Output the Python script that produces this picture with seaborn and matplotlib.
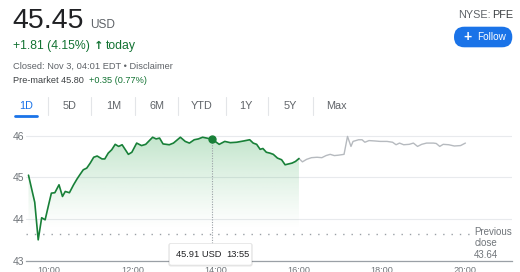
import numpy as np
import pandas as pd
import matplotlib
matplotlib.use("Agg")
import matplotlib.pyplot as plt
import seaborn as sns
from matplotlib.patches import Polygon, FancyBboxPatch
from matplotlib.lines import Line2D
from matplotlib.colors import to_rgb

# ---------------- data ----------------
reg_time = ["9:30", "9:39", "9:44", "9:49", "9:54", "9:59", "10:03", "10:08", "10:14", "10:19",
            "10:23", "10:29", "10:35", "10:40", "10:44", "10:49", "10:54", "10:59", "11:04", "11:09",
            "11:16", "11:20", "11:25", "11:30", "11:35", "11:40", "11:45", "11:54", "11:59", "12:06",
            "12:13", "12:19", "12:29", "12:34", "12:39", "12:44", "12:53", "12:59", "13:09", "13:16",
            "13:22", "13:29", "13:35", "13:41", "13:47", "13:55", "14:05", "14:13", "14:21", "14:30",
            "14:40", "14:49", "14:54", "14:59", "15:04", "15:08", "15:13", "15:18", "15:23", "15:29",
            "15:35", "15:40", "15:50", "15:55", "16:00"]
reg_price = [45.05, 44.40, 43.50, 44.03, 43.98, 44.34, 44.62, 44.63, 44.82, 44.54,
             44.66, 44.63, 44.82, 44.96, 45.06, 45.18, 45.22, 45.34, 45.48, 45.51,
             45.44, 45.44, 45.58, 45.66, 45.79, 45.74, 45.78, 45.55, 45.60, 45.82,
             45.76, 45.79, 45.96, 45.92, 45.94, 45.80, 45.78, 45.82, 45.96, 45.86,
             45.82, 45.90, 45.92, 45.96, 45.94, 45.91, 45.79, 45.86, 45.83, 45.84,
             45.87, 45.90, 45.82, 45.79, 45.67, 45.69, 45.60, 45.58, 45.55, 45.46,
             45.42, 45.30, 45.34, 45.38, 45.45]

ah_time = ["16:00", "16:05", "16:11", "16:18", "16:26", "16:33", "16:39", "16:45", "16:51", "16:57",
           "17:05", "17:10", "17:15", "17:18", "17:26", "17:31", "17:35", "17:41", "17:50", "17:57",
           "18:07", "18:15", "18:20", "18:25", "18:31", "18:39", "18:45", "18:51", "18:57", "19:04",
           "19:14", "19:18", "19:23", "19:28", "19:36", "19:44", "19:53", "20:00"]
ah_price = [45.45, 45.37, 45.43, 45.47, 45.48, 45.47, 45.52, 45.55, 45.52, 45.53,
            45.55, 45.98, 45.74, 45.86, 45.90, 45.90, 45.84, 45.88, 45.87, 45.86,
            45.86, 45.84, 45.78, 45.82, 45.78, 45.79, 45.82, 45.74, 45.79, 45.82,
            45.82, 45.81, 45.74, 45.79, 45.78, 45.75, 45.76, 45.82]

prev_close = 43.64
hover_time = "13:55"
hover_price = 45.91
y_ticks = [43, 44, 45, 46]
x_tick_labels = ["10:00", "12:00", "14:00", "16:00", "18:00", "20:00"]
tabs = ["1D", "5D", "1M", "6M", "YTD", "1Y", "5Y", "Max"]

price = "45.45"
currency = "USD"
change_value = "+1.81 (4.15%)"
change_arrow = "\u2191"
change_word = "today"
closed_text = "Closed: Nov 3, 04:01 EDT \u2022 Disclaimer"
premarket_label = "Pre-market 45.80"
premarket_change = "+0.35 (0.77%)"
exchange = "NYSE:"
ticker = "PFE"


def hours(ts):
    return [int(s.split(":")[0]) + int(s.split(":")[1]) / 60 for s in ts]


# ---------------- style ----------------
sns.set_style("white")
plt.rcParams["font.family"] = ["Liberation Sans", "DejaVu Sans"]

W, H = 520, 272
fig = plt.figure(figsize=(W / 100, H / 100), dpi=100)
fig.patch.set_facecolor("white")


def fx(x):
    return x / W


def fy(y):
    return 1 - y / H


GREEN = "#188038"
GREY_TXT = "#70757a"
DARK = "#202124"
BLUE = "#1a73e8"

ax = fig.add_axes([fx(26), fy(260.7), fx(512) - fx(26), fy(131.4) - fy(260.7)])

t_reg = hours(reg_time)
t_ah = hours(ah_time)
df_reg = pd.DataFrame({"t": t_reg, "p": reg_price})
df_ah = pd.DataFrame({"t": t_ah, "p": ah_price})

sns.lineplot(data=df_ah, x="t", y="p", ax=ax, color="#b6babf", linewidth=1.0, zorder=3)
sns.lineplot(data=df_reg, x="t", y="p", ax=ax, color=GREEN, linewidth=1.2, zorder=4)

xmin, xmax = 9.44, 21.12
ymin, ymax = 43.0, 46.1

# gradient fill under regular session
clip = Polygon(list(zip(t_reg, reg_price)) + [(t_reg[-1], ymin), (t_reg[0], ymin)],
               closed=True, transform=ax.transData, fc="none", ec="none")
ax.add_patch(clip)
ys = np.linspace(ymin, ymax, 256)
alpha = np.clip((ys - 43.75) / (46.0 - 43.75), 0, 1) ** 1.2 * 0.30
rgba = np.zeros((256, 2, 4))
rgba[..., :3] = to_rgb("#34a853")
rgba[..., 3] = alpha[:, None]
im = ax.imshow(rgba, extent=[t_reg[0], t_reg[-1], ymin, ymax], origin="lower",
               aspect="auto", zorder=2, interpolation="bilinear")
im.set_clip_path(clip)

# previous close dotted line
ax.hlines(prev_close, xmin, 20.15, colors="#9aa0a6", linewidth=1.0,
          linestyles=[(0, (1, 5))], zorder=2)

# hover line and marker
h = hours([hover_time])[0]
ax.plot([h, h], [43.43, hover_price], color="#9aa0a6", linewidth=0.8,
        dashes=(1, 1.3), zorder=3)
ax.plot([h], [hover_price], "o", ms=5, color=GREEN, mec=GREEN, zorder=5)

ax.set_xlim(xmin, xmax)
ax.set_ylim(ymin, ymax)
ax.set_xlabel("")
ax.set_ylabel("")
ax.set_yticks(y_ticks)
ax.set_yticklabels([str(v) for v in y_ticks])
ax.set_xticks(hours(x_tick_labels))
ax.set_xticklabels(x_tick_labels)
ax.yaxis.grid(True, color="#e8eaed", linewidth=0.8)
ax.xaxis.grid(False)
for s in ["top", "left", "right"]:
    ax.spines[s].set_visible(False)
ax.spines["bottom"].set_color("#9aa0a6")
ax.spines["bottom"].set_linewidth(0.9)
ax.tick_params(axis="x", direction="in", length=3.5, width=0.8, color="#9aa0a6",
               labelsize=6.6, labelcolor=GREY_TXT, pad=3.5)
ax.tick_params(axis="y", length=0, labelsize=7.5, labelcolor=GREY_TXT, pad=1.5)
ax.set_facecolor("none")

# previous close label
for txt, yb in zip(["Previous", "close", f"{prev_close:.2f}"], [235.0, 246.5, 257.5]):
    fig.text(fx(474.3), fy(yb), txt, va="baseline", ha="left", fontsize=7.0, color=GREY_TXT)

# tooltip
shadow = FancyBboxPatch((168.3, H - 266.5), 84.4, 23.5,
                        boxstyle="round,pad=0,rounding_size=2.5", transform=None,
                        fc=(0, 0, 0, 0.10), ec="none", zorder=4)
box = FancyBboxPatch((169.3, H - 265.0), 82.4, 21.5,
                     boxstyle="round,pad=0,rounding_size=2", transform=None,
                     fc="white", ec="#e3e3e3", lw=0.4, zorder=5)
fig.patches.extend([shadow, box])
fig.text(fx(176), fy(257), f"{hover_price:.2f} USD", va="baseline", fontsize=6.7, color=DARK, zorder=6)
fig.text(fx(226.7), fy(257), hover_time, va="baseline", fontsize=6.7, color=DARK, zorder=6)

# ---------------- header ----------------
fig.text(fx(12.5), fy(28), price, fontsize=20.5, color=DARK, va="baseline")
fig.text(fx(90.5), fy(27.5), currency, fontsize=8.6, color="#5f6368", va="baseline")
fig.text(fx(13.3), fy(49.3), change_value, fontsize=8.8, color="#137333", va="baseline")
fig.text(fx(98.3), fy(49.3), change_arrow, fontsize=8.2, color="#137333", va="baseline",
         ha="center", family="DejaVu Sans", fontweight="bold")
fig.text(fx(106), fy(49.3), change_word, fontsize=8.8, color="#137333", va="baseline")
fig.text(fx(13.3), fy(69), closed_text, fontsize=6.7, color="#5f6368", va="baseline")
fig.text(fx(13.3), fy(82.7), premarket_label, fontsize=6.6, color="#3c4043", va="baseline")
fig.text(fx(88.8), fy(82.7), premarket_change, fontsize=6.6, color="#137333", va="baseline")

# exchange label
fig.text(fx(457.7), fy(17.7), exchange, fontsize=7.8, color="#5f6368", va="baseline")
fig.text(fx(492.0), fy(17.7), ticker, fontsize=7.8, color="#3c4043", va="baseline")

# follow button
btn = FancyBboxPatch((454, H - 47.3), 58.3, 20.6,
                     boxstyle="round,pad=0,rounding_size=10.3", transform=None,
                     fc=BLUE, ec="none", zorder=2)
fig.patches.append(btn)
fig.text(fx(467.7), fy(37.2), "+", fontsize=10, fontweight="bold", color="white",
         ha="center", va="center", zorder=3)
fig.text(fx(476.7), fy(37.2), "Follow", fontsize=7.2, color="white",
         ha="left", va="center", zorder=3)

# tabs
tab_x = [26.0, 69.3, 113.3, 156.7, 201.7, 246.0, 290.0, 336.0]
sep_x = [48.3, 90.7, 135.0, 178.3, 226.0, 268.3, 312.7]
for lab, cx in zip(tabs, tab_x):
    fig.text(fx(cx), fy(106.3), lab, fontsize=7.8, ha="center", va="center",
             color=BLUE if lab == "1D" else "#5f6368")
for sx in sep_x:
    fig.add_artist(Line2D([fx(sx), fx(sx)], [fy(97), fy(115)], color="#e3e5e8",
                          linewidth=0.8, transform=fig.transFigure))
fig.add_artist(Line2D([fx(15), fx(36.5)], [fy(116.3), fy(116.3)], color=BLUE,
                      linewidth=2.0, solid_capstyle="round", transform=fig.transFigure))

fig.savefig("out.png", dpi=100, facecolor="white")
